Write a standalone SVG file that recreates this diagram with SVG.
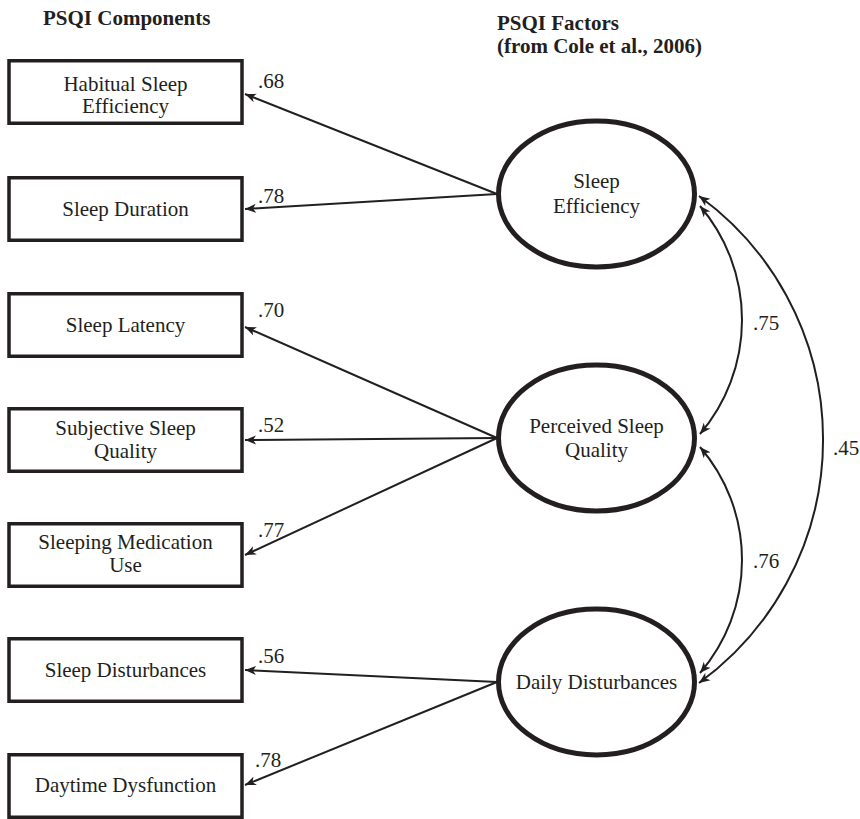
<svg xmlns="http://www.w3.org/2000/svg" width="860" height="819" viewBox="0 0 860 819">
<style>
text{font-family:"Liberation Serif","Times New Roman",serif;fill:#231f20;font-size:21px}
.h{font-weight:bold}
.c{text-anchor:middle}
.box{fill:#fff;stroke:#231f20;stroke-width:3.5}
.ell{fill:#fff;stroke:#231f20;stroke-width:5}
.ln{fill:none;stroke:#231f20;stroke-width:2}
</style>
<defs>
<marker id="ah" markerUnits="userSpaceOnUse" viewBox="0 0 12 10" refX="11" refY="5" markerWidth="12" markerHeight="10" orient="auto-start-reverse">
<path d="M0,0.5 L11,5 L0,9.5 L3,5 z" fill="#231f20"/>
</marker>
</defs>
<rect width="860" height="819" fill="#fff"/>
<text class="h" x="43" y="25">PSQI Components</text>
<text class="h" x="497" y="30">PSQI Factors</text>
<text class="h" x="497" y="53">(from Cole et al., 2006)</text>

<g id="connectors">
<path class="ln" d="M497,194 L245,94" marker-end="url(#ah)"/>
<path class="ln" d="M497,194 L245,209" marker-end="url(#ah)"/>
<path class="ln" d="M497,438 L245,327" marker-end="url(#ah)"/>
<path class="ln" d="M497,438 L245,440" marker-end="url(#ah)"/>
<path class="ln" d="M497,438 L245,555" marker-end="url(#ah)"/>
<path class="ln" d="M497,682 L245,670" marker-end="url(#ah)"/>
<path class="ln" d="M497,682 L245,785" marker-end="url(#ah)"/>
<path class="ln" d="M700,206 A175.7,175.7 0 0 1 700,434" marker-start="url(#ah)" marker-end="url(#ah)"/>
<path class="ln" d="M700,447 A173,173 0 0 1 700,673" marker-start="url(#ah)" marker-end="url(#ah)"/>
<path class="ln" d="M699,196 A301,301 0 0 1 699,683" marker-start="url(#ah)" marker-end="url(#ah)"/>
<text x="258" y="88">.68</text>
<text x="258" y="203">.78</text>
<text x="258" y="317">.70</text>
<text x="258" y="432">.52</text>
<text x="258" y="537">.77</text>
<text x="258" y="663">.56</text>
<text x="255" y="767">.78</text>
<text x="753" y="330">.75</text>
<text x="753" y="568">.76</text>
<text x="833" y="455">.45</text>
</g>

<g id="n-habitual"><rect class="box" x="9" y="60.75" width="233" height="62.5"/><text class="c" x="125.5" y="91">Habitual Sleep</text><text class="c" x="125.5" y="113">Efficiency</text></g>
<g id="n-duration"><rect class="box" x="9" y="177.75" width="233" height="62.5"/><text class="c" x="125.5" y="216">Sleep Duration</text></g>
<g id="n-latency"><rect class="box" x="9" y="293.75" width="233" height="62.5"/><text class="c" x="125.5" y="332">Sleep Latency</text></g>
<g id="n-subjective"><rect class="box" x="9" y="408.75" width="233" height="62.5"/><text class="c" x="125.5" y="435">Subjective Sleep</text><text class="c" x="125.5" y="458">Quality</text></g>
<g id="n-medication"><rect class="box" x="9" y="523.75" width="233" height="62.5"/><text class="c" x="125.5" y="549">Sleeping Medication</text><text class="c" x="125.5" y="572">Use</text></g>
<g id="n-disturbances"><rect class="box" x="9" y="638.75" width="233" height="62.5"/><text class="c" x="125.5" y="677">Sleep Disturbances</text></g>
<g id="n-daytime"><rect class="box" x="9" y="754.75" width="233" height="62.5"/><text class="c" x="125.5" y="792">Daytime Dysfunction</text></g>

<g id="f-efficiency"><ellipse class="ell" cx="596.5" cy="194" rx="98" ry="73"/><text class="c" x="596.5" y="188">Sleep</text><text class="c" x="596.5" y="213">Efficiency</text></g>
<g id="f-perceived"><ellipse class="ell" cx="596.5" cy="438" rx="98" ry="73"/><text class="c" x="596.5" y="433">Perceived Sleep</text><text class="c" x="596.5" y="457">Quality</text></g>
<g id="f-daily"><ellipse class="ell" cx="596.5" cy="682" rx="98" ry="73"/><text class="c" x="596.5" y="689">Daily Disturbances</text></g>
</svg>
